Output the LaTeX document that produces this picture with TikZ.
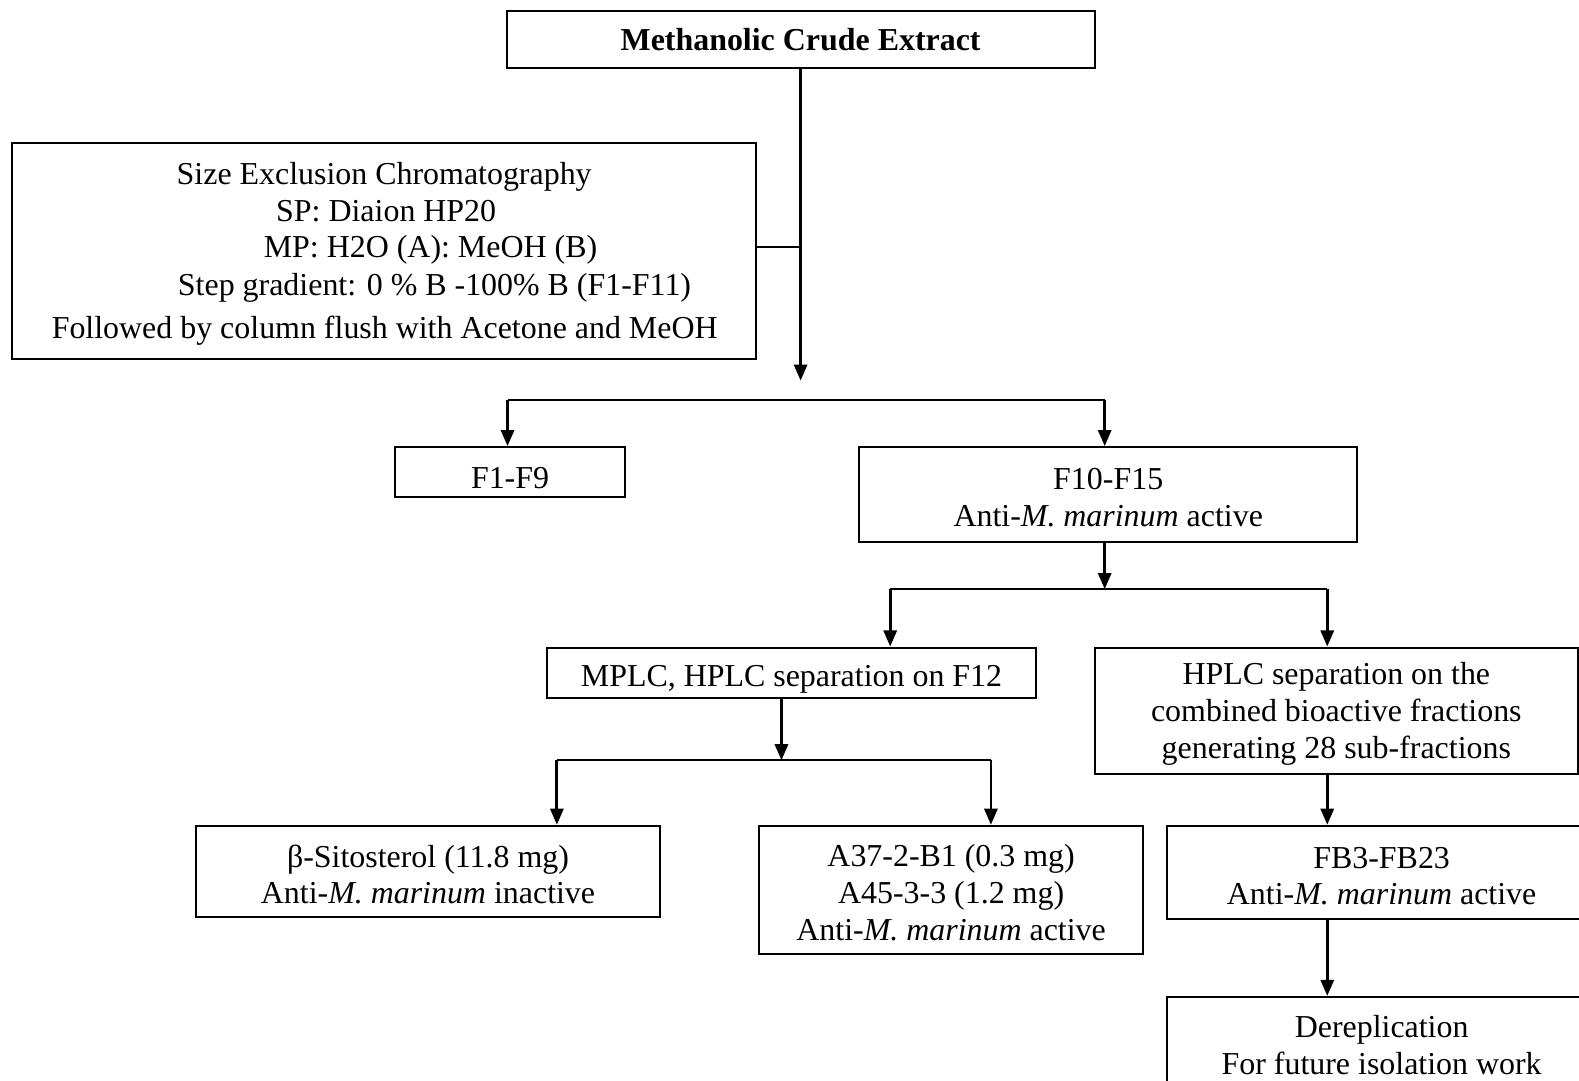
\documentclass[tikz,border=0pt]{standalone}
\usepackage{fontspec}
\setmainfont{Liberation Serif}
\usetikzlibrary{arrows.meta}
\newcommand\fsz{\fontsize{15.85}{18.25}\selectfont}
\newcommand\hstr{\rule{0pt}{14pt}}
\begin{document}
\begin{tikzpicture}[x=0.5pt,y=-0.5pt,
  box/.style={draw, line width=1pt, inner sep=0pt, align=center, font=\fsz},
  txt/.style={inner sep=0pt, font=\fsz, anchor=base},
  ln/.style={line width=1pt},
  arr/.style={line width=1.4pt, -{Triangle[width=6.5pt,length=8pt]}}]
\useasboundingbox (0,0) rectangle (1568,1073);
\clip (0,0) rectangle (1568,1073);
% boxes
\node[box, minimum width=584*0.5pt, minimum height=57*0.5pt] (top) at (795,39.5) {\bfseries Methanolic Crude Extract};
\node[box, minimum width=739*0.5pt, minimum height=214*0.5pt] (sec) at (381.5,249) {};
\node[txt] (s1) at (381.5,183) {Size Exclusion Chromatography};
\node[txt] (s2) at (383.5,220) {SP: Diaion HP20};
\node[txt] (s3) at (427.5,256) {MP: H2O (A): MeOH (B)};
\node[txt] (s4) at (431.5,293) {Step gradient: 0 \% B -100\% B (F1-F11)};
\node[txt] (s5) at (382,336) {Followed by column flush with Acetone and MeOH};
\node[box, minimum width=229*0.5pt, minimum height=50*0.5pt, text height=16pt, text depth=0pt] (f19) at (506.5,469) {F1-F9};
\node[box, minimum width=495*0.5pt, minimum height=94*0.5pt] (f1015) at (1100.5,491) {\hstr F10-F15\\Anti-\textit{M. marinum} active};
\node[box, minimum width=486*0.5pt, minimum height=50*0.5pt, text height=13.3pt, text depth=0pt] (mplc) at (786,668) {MPLC, HPLC separation on F12};
\node[box, minimum width=480*0.5pt, minimum height=126*0.5pt] (hplc) at (1327,706) {\hstr HPLC separation on the\\combined bioactive fractions\\generating 28 sub-fractions};
\node[box, minimum width=460*0.5pt, minimum height=91*0.5pt] (sito) at (425,865.5) {\hstr β-Sitosterol (11.8 mg)\\Anti-\textit{M. marinum} inactive};
\node[box, minimum width=381*0.5pt, minimum height=127*0.5pt] (a37) at (944.5,883.5) {\hstr A37-2-B1 (0.3 mg)\\A45-3-3 (1.2 mg)\\Anti-\textit{M. marinum} active};
\node[box, minimum width=426*0.5pt, minimum height=93*0.5pt] (fb3) at (1372,866.5) {\hstr FB3-FB23\\Anti-\textit{M. marinum} active};
\node[box, minimum width=426*0.5pt, minimum height=96*0.5pt] (derep) at (1372,1038) {Dereplication\\For future isolation work};
% connectors
\coordinate (m1) at (795,378);
\draw[arr] (top.south) -- (m1);
\coordinate (j1) at (795,245);
\draw[ln] (sec.east |- j1) -- (j1);
\coordinate (b1l) at (504,397);
\coordinate (b1r) at (1097,397);
\draw[ln] (b1l) -- (b1r);
\draw[arr] (b1l) -- (b1l |- f19.north);
\draw[arr] (b1r) -- (b1r |- f1015.north);
\coordinate (b2) at (1097,585);
\coordinate (b2l) at (884,585);
\coordinate (b2r) at (1318,585);
\draw[arr] (b2 |- f1015.south) -- (b2);
\draw[ln] (b2l) -- (b2r);
\draw[arr] (b2l) -- (b2l |- mplc.north);
\draw[arr] (b2r) -- (b2r |- hplc.north);
\coordinate (b3) at (776,755);
\coordinate (b3l) at (553,755);
\coordinate (b3r) at (984,755);
\draw[arr] (b3 |- mplc.south) -- (b3);
\draw[ln] (b3l) -- (b3r);
\draw[arr] (b3l) -- (b3l |- sito.north);
\draw[arr] (b3r) -- (b3r |- a37.north);
\draw[arr] (b2r |- hplc.south) -- (b2r |- fb3.north);
\draw[arr] (b2r |- fb3.south) -- (b2r |- derep.north);
\end{tikzpicture}
\end{document}
